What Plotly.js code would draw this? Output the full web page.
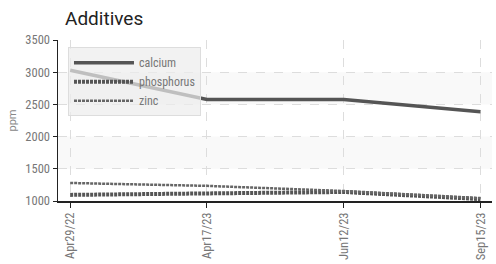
<!DOCTYPE html>
<html><head><meta charset="utf-8">
<script src="https://cdn.plot.ly/plotly-3.0.1.min.js"></script>
<style>html,body{margin:0;padding:0;background:#fff}#c{width:496px;height:264px}</style>
</head><body><div id="c"></div>
<script>
const dates = ["Apr29/22", "Apr17/23", "Jun12/23", "Sep15/23"];
const calcium = [3030, 2575, 2575, 2385];
const phosphorus = [1095, 1120, 1140, 1030];
const zinc = [1280, 1235, 1155, 1045];
const yTicks = [1000, 1500, 2000, 2500, 3000, 3500];

const tickFont = {family: "Liberation Sans Narrow, Roboto Condensed, Roboto, sans-serif", size: 12.5, color: "#777"};

const traces = [
  {x: dates, y: calcium, name: "calcium", mode: "lines", line: {color: "#555", width: 3.5}},
  {x: dates, y: phosphorus, name: "phosphorus", mode: "lines", line: {color: "#555", width: 4, dash: "3px,1px"}},
  {x: dates, y: zinc, name: "zinc", mode: "lines", line: {color: "#666", width: 2.5, dash: "3px,1px"}}
];

const bands = [[1500, 2000], [2500, 3000]].map(b => ({
  type: "rect", xref: "paper", yref: "y", x0: 0, x1: 1, y0: b[0], y1: b[1],
  fillcolor: "#f9f9f9", line: {width: 0}, layer: "below"
}));

const layout = {
  width: 496, height: 264,
  margin: {l: 58, r: 4, t: 40, b: 63},
  paper_bgcolor: "#fff", plot_bgcolor: "#fff",
  title: {text: "Additives", x: 0, xref: "paper", xanchor: "left", y: 0.932, yref: "container", yanchor: "middle",
    font: {family: "Roboto, sans-serif", size: 19, color: "#222"}, pad: {l: 7}},
  showlegend: true,
  legend: {x: 0.023, y: 0.955, xanchor: "left", yanchor: "top", bgcolor: "rgba(236,236,236,0.7)",
    bordercolor: "#ddd", borderwidth: 1, itemwidth: 60, tracegroupgap: 0,
    font: {family: "Liberation Sans Narrow, Roboto Condensed, Roboto, sans-serif", size: 12, color: "#777"}},
  xaxis: {type: "category", range: [-0.089, 3.084], showline: true, linecolor: "#222", linewidth: 1.5,
    ticks: "outside", ticklen: 5, tickcolor: "#222", tickangle: -90, tickfont: tickFont,
    showgrid: true, gridcolor: "#ddd", griddash: "dash", gridwidth: 1, zeroline: false},
  yaxis: {range: [1000, 3500], tickvals: yTicks, showline: true, linecolor: "#222", linewidth: 1.5,
    ticks: "outside", ticklen: 4, tickcolor: "#222", tickfont: tickFont,
    showgrid: true, gridcolor: "#ddd", griddash: "dash", gridwidth: 1, zeroline: false,
    title: {text: "ppm", font: {family: "Liberation Sans Narrow, Roboto, sans-serif", size: 11, color: "#888"}, standoff: 6}},
  shapes: bands
};

Plotly.newPlot("c", traces, layout, {displayModeBar: false, staticPlot: true});
</script></body></html>
